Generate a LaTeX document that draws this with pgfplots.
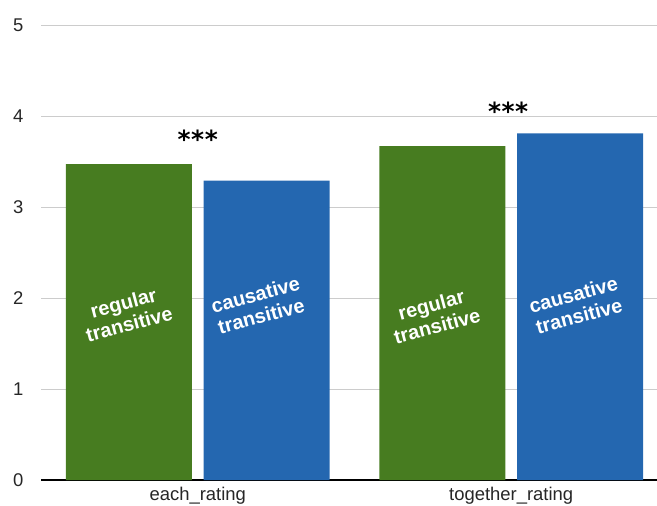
\documentclass[border=0pt]{standalone}
\usepackage{pgfplots}
\pgfplotsset{compat=1.18}
\usepackage{fontspec}
\setmainfont{Liberation Sans}
\newfontfamily\starfont{DejaVu Sans}

\definecolor{barGreen}{HTML}{477C20}
\definecolor{barBlue}{HTML}{2467B0}
\definecolor{gridGray}{HTML}{CCCCCC}

\newcommand{\stars}{\starfont\bfseries *\kern0.5bp*\kern0.5bp*}

\begin{document}
\begin{tikzpicture}
  \begin{axis}[
      scale only axis,
      width=616bp, height=455bp,
      at={(0,0)}, anchor=south west,
      xmin=-0.5, xmax=1.465,
      ymin=0, ymax=5,
      ytick={0,1,2,3,4,5},
      xtick={0,1},
      xticklabels={each\_rating, together\_rating},
      major tick length=0pt,
      axis x line=bottom,
      axis y line=left,
      x axis line style={-, black, line width=2bp},
      y axis line style={draw=none},
      ymajorgrids,
      grid style={gridGray, line width=0.8bp},
      /pgf/number format/assume math mode=true,
      tick label style={font=\fontsize{18.5}{18.5}\selectfont, text=black!85},
      yticklabel style={xshift=-14bp},
      xticklabel style={yshift=-4bp},
      ybar,
      bar width=0.402,
      clip=false,
    ]
    \addplot[draw=none, fill=barGreen, bar shift=-0.22] coordinates {(0,3.47) (1,3.67)};
    \addplot[draw=none, fill=barBlue, bar shift=0.22] coordinates {(0,3.29) (1,3.81)};

    % significance markers
    \node[font=\fontsize{25}{25}\selectfont] at (axis cs:0,3.74) {\stars};
    \node[font=\fontsize{25}{25}\selectfont] at (axis cs:0.99,4.05) {\stars};

    % bar labels
    \begin{scope}[every node/.style={text=white, font=\bfseries\fontsize{20}{22}\selectfont,
        align=center, rotate=15}]
      \node at (axis cs:-0.228,1.83) {regular\\transitive};
      \node at (axis cs:0.193,1.92) {causative\\transitive};
      \node at (axis cs:0.754,1.81) {regular\\transitive};
      \node at (axis cs:1.207,1.92) {causative\\transitive};
    \end{scope}
  \end{axis}
  \pgfresetboundingbox
  \path[use as bounding box] (-41bp,-26bp) rectangle (616bp,480bp);
\end{tikzpicture}
\end{document}
